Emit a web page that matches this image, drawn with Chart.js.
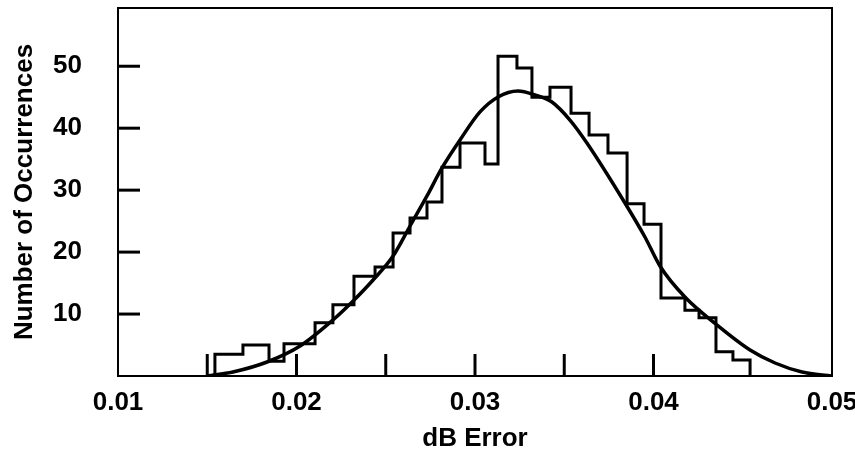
<!DOCTYPE html>
<html>
<head>
<meta charset="utf-8">
<script src="https://cdn.jsdelivr.net/npm/chart.js@4"></script>
<style>
  html, body { margin: 0; padding: 0; background: #fff; }
  #wrap { width: 855px; height: 452px; }
</style>
</head>
<body>
<div id="wrap"><canvas id="chart"></canvas></div>
<script>
// --- data ---
// histogram : left edge of each bin (dB error) and its count
const binEdges = [0.01543, 0.01700, 0.01846, 0.01930, 0.02104, 0.02204, 0.02322, 0.02440,
  0.02541, 0.02636, 0.02731, 0.02815, 0.02916, 0.03056, 0.03129, 0.03235, 0.03319, 0.03420,
  0.03538, 0.03639, 0.03745, 0.03852, 0.03947, 0.04042, 0.04176, 0.04255, 0.04350, 0.04445];
const binCounts = [3.5, 5.0, 2.4, 5.2, 8.6, 11.5, 16.1, 17.6,
  23.1, 25.5, 28.1, 33.7, 37.6, 34.2, 51.6, 49.7, 45.0, 46.6,
  42.4, 38.9, 36.0, 27.8, 24.5, 12.6, 10.6, 9.4, 3.9, 2.6];
const histEnd = 0.04541;

// fitted curve
const curveX = [0.01499, 0.01644, 0.01835, 0.02020, 0.02204, 0.02317, 0.02429, 0.02541,
  0.02636, 0.02731, 0.02815, 0.02916, 0.03028, 0.03129, 0.03241, 0.03336, 0.03431, 0.03532,
  0.03627, 0.03840, 0.03952, 0.04036, 0.04176, 0.04356, 0.04541, 0.04681, 0.04832, 0.05];
const curveY = [0, 0.65, 2.26, 4.84, 9.04, 12.11, 15.50, 19.37,
  24.21, 29.06, 33.58, 38.10, 42.62, 45.04, 46.00, 45.36, 44.23, 41.32,
  37.61, 27.93, 22.44, 17.76, 12.75, 8.23, 4.20, 2.10, 0.65, 0];

const xLabels = [0.01, 0.02, 0.03, 0.04, 0.05];
const xMarks = [0.015, 0.02, 0.025, 0.03, 0.035, 0.04];
const yLabels = [10, 20, 30, 40, 50];

// --- build points ---
let histPts = [{ x: binEdges[0], y: 0 }];
binEdges.forEach((e, i) => histPts.push({ x: e, y: binCounts[i] }));
histPts.push({ x: histEnd, y: 0 });

const curvePts = curveX.map((x, i) => ({ x: x, y: curveY[i] }));

const FONT = "'Liberation Sans', Arial, Helvetica, sans-serif";

// frame + inward tick marks
const frameTicks = {
  id: 'frameTicks',
  afterDraw(chart) {
    const ctx = chart.ctx, a = chart.chartArea;
    const xs = chart.scales.x, ys = chart.scales.y;
    ctx.save();
    ctx.strokeStyle = '#000';
    ctx.lineWidth = 3;
    ctx.lineCap = 'butt';
    xMarks.forEach(v => {
      const px = xs.getPixelForValue(v);
      ctx.beginPath(); ctx.moveTo(px, a.bottom); ctx.lineTo(px, a.bottom - 22); ctx.stroke();
    });
    yLabels.forEach(v => {
      const py = ys.getPixelForValue(v);
      ctx.beginPath(); ctx.moveTo(a.left, py); ctx.lineTo(a.left + 22, py); ctx.stroke();
    });
    ctx.lineWidth = 2;
    ctx.strokeRect(a.left, a.top, a.right - a.left, a.bottom - a.top);
    ctx.restore();
  }
};

new Chart(document.getElementById('chart'), {
  type: 'line',
  data: {
    datasets: [
      {
        label: 'Histogram',
        data: histPts,
        stepped: true,
        borderColor: '#000', borderWidth: 3,
        pointRadius: 0, fill: false
      },
      {
        label: 'Fit',
        data: curvePts,
        cubicInterpolationMode: 'monotone',
        borderColor: '#000', borderWidth: 3.5,
        pointRadius: 0, fill: false
      }
    ]
  },
  options: {
    responsive: true, maintainAspectRatio: false, animation: false,
    layout: { padding: { top: 8, right: 23, left: 0, bottom: 0 } },
    plugins: { legend: { display: false }, tooltip: { enabled: false } },
    scales: {
      x: {
        type: 'linear', min: 0.01, max: 0.05,
        grid: { display: false, drawTicks: false },
        border: { color: '#000', width: 2 },
        afterBuildTicks: s => { s.ticks = xLabels.map(v => ({ value: v })); },
        afterFit: s => { s.height = 76; s.paddingLeft = 0; s.paddingRight = 0; },
        ticks: {
          color: '#000', padding: 11, maxRotation: 0,
          font: { family: FONT, size: 26, weight: 'bold' },
          callback: v => v.toFixed(2)
        },
        title: {
          display: true, text: 'dB Error', color: '#000',
          font: { family: FONT, size: 26, weight: 'bold', lineHeight: 1 },
          padding: 0
        }
      },
      y: {
        type: 'linear', min: 0, max: 59.4,
        grid: { display: false, drawTicks: false },
        border: { color: '#000', width: 2 },
        afterBuildTicks: s => { s.ticks = yLabels.map(v => ({ value: v })); },
        afterFit: s => { s.width = 118; s.paddingTop = 0; s.paddingBottom = 0; },
        ticks: {
          color: '#000', padding: 36,
          font: { family: FONT, size: 26, weight: 'bold' }
        },
        title: {
          display: true, text: 'Number of Occurrences', color: '#000',
          font: { family: FONT, size: 26, weight: 'bold', lineHeight: 1 },
          padding: { top: 12, bottom: 0 }
        }
      }
    }
  },
  plugins: [frameTicks]
});
</script>
</body>
</html>
